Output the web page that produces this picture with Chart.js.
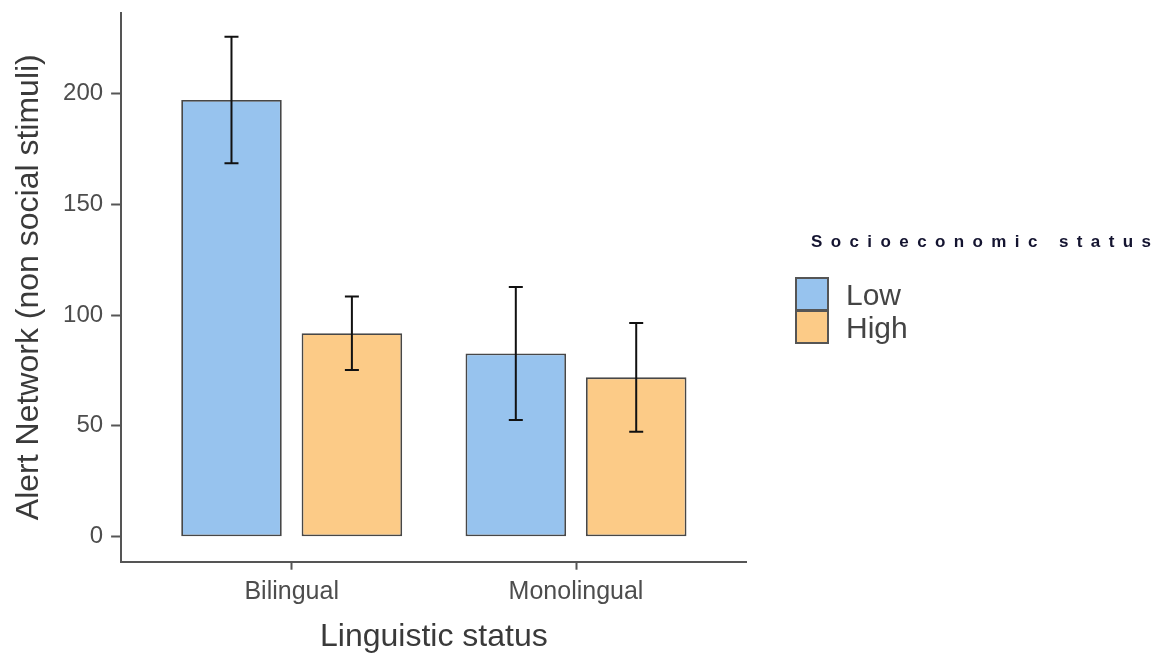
<!DOCTYPE html>
<html>
<head>
<meta charset="utf-8">
<script src="https://cdn.jsdelivr.net/npm/chart.js@4.4.1/dist/chart.umd.min.js"></script>
<style>
  html, body { margin: 0; padding: 0; background: #ffffff; }
  #wrap { width: 1159px; height: 657px; position: relative; }
</style>
</head>
<body>
<div id="wrap"><canvas id="chart" width="1159" height="657"></canvas></div>
<script>
// Alert network scores by linguistic status, split by socioeconomic status
const categories = ['Bilingual', 'Monolingual'];
const groupNames = ['Low', 'High'];
const lowMeans = [197.0, 82.7];
const highMeans = [91.8, 71.9];
const lowErrors = [28.5, 30.0];
const highErrors = [16.6, 24.5];
const yTickValues = [0, 50, 100, 150, 200];

const FONT = "'Liberation Sans', Arial, Helvetica, sans-serif";
const fillColors = ['#97c3ee', '#fccb87'];
const errorSets = [lowErrors, highErrors];

// Mean +/- error whiskers on top of each bar
const errorBars = {
  id: 'errorBars',
  afterDatasetsDraw(chart) {
    const ctx = chart.ctx;
    const y = chart.scales.y;
    ctx.save();
    ctx.strokeStyle = '#111111';
    ctx.lineWidth = 2;
    chart.data.datasets.forEach((ds, i) => {
      const meta = chart.getDatasetMeta(i);
      meta.data.forEach((bar, j) => {
        const m = ds.data[j];
        const e = errorSets[i][j];
        const top = y.getPixelForValue(m + e);
        const bot = y.getPixelForValue(m - e);
        const cap = 7;
        ctx.beginPath();
        ctx.moveTo(bar.x, top); ctx.lineTo(bar.x, bot);
        ctx.moveTo(bar.x - cap, top); ctx.lineTo(bar.x + cap, top);
        ctx.moveTo(bar.x - cap, bot); ctx.lineTo(bar.x + cap, bot);
        ctx.stroke();
      });
    });
    ctx.restore();
  }
};

// Legend on the right: spaced-out title with stacked key boxes
const sideLegend = {
  id: 'sideLegend',
  afterDraw(chart) {
    const ctx = chart.ctx;
    ctx.save();
    // title, letter by letter with wide tracking between x0 and x1
    const title = 'Socioeconomic status';
    ctx.font = 'bold 17px ' + FONT;
    ctx.fillStyle = '#141430';
    ctx.textBaseline = 'alphabetic';
    ctx.textAlign = 'left';
    const chars = Array.from(title);
    const x0 = 811, x1 = 1151;
    const natural = chars.reduce((s, ch) => s + ctx.measureText(ch).width, 0);
    const gap = (x1 - x0 - natural) / (chars.length - 1);
    let x = x0;
    for (const ch of chars) {
      ctx.fillText(ch, x, 247);
      x += ctx.measureText(ch).width + gap;
    }
    // key boxes
    const boxX = 796, boxY = 278, box = 32;
    chart.data.datasets.forEach((ds, i) => {
      const by = boxY + i * (box + 1);
      ctx.fillStyle = ds.backgroundColor;
      ctx.fillRect(boxX, by, box, box);
      ctx.strokeStyle = '#555555';
      ctx.lineWidth = 2;
      ctx.strokeRect(boxX, by, box, box);
      ctx.fillStyle = '#444444';
      ctx.font = '30px ' + FONT;
      ctx.fillText(ds.label, 846, by + 27);
    });
    ctx.restore();
  }
};

new Chart(document.getElementById('chart'), {
  type: 'bar',
  data: {
    labels: categories,
    datasets: [
      {
        label: groupNames[0],
        data: lowMeans,
        backgroundColor: fillColors[0],
        borderColor: '#474747',
        borderWidth: 1.8,
        borderSkipped: false,
        categoryPercentage: 0.847,
        barPercentage: 0.835
      },
      {
        label: groupNames[1],
        data: highMeans,
        backgroundColor: fillColors[1],
        borderColor: '#474747',
        borderWidth: 1.8,
        borderSkipped: false,
        categoryPercentage: 0.847,
        barPercentage: 0.835
      }
    ]
  },
  options: {
    responsive: false,
    animation: false,
    layout: { padding: { left: 0, right: 412.4, top: 12.7, bottom: 0 } },
    plugins: {
      legend: { display: false },
      tooltip: { enabled: false }
    },
    scales: {
      x: {
        type: 'category',
        offset: true,
        // discrete axis padded by 0.6 of a category on each side
        afterBuildTicks(scale) {
          scale._startValue = -0.6;
          scale._valueRange = categories.length + 0.2;
        },
        afterFit(scale) {
          scale.height = 95.3;
          scale.paddingLeft = 0;
          scale.paddingRight = 0;
        },
        grid: {
          display: true,
          drawOnChartArea: false,
          offset: false,
          tickLength: 8,
          tickWidth: 2,
          color: '#555555'
        },
        border: { display: true, color: '#555555', width: 2 },
        ticks: {
          color: '#4d4d4d',
          font: { family: FONT, size: 25 },
          padding: 7
        },
        title: {
          display: true,
          text: 'Linguistic status',
          color: '#3a3a3a',
          font: { family: FONT, size: 32 },
          padding: { top: 0, bottom: 1 }
        }
      },
      y: {
        min: -11.28,
        max: 236.4,
        afterBuildTicks(scale) {
          scale.ticks = yTickValues.map(v => ({ value: v }));
        },
        afterFit(scale) {
          scale.width = 121.1;
          scale.paddingTop = 0;
          scale.paddingBottom = 0;
        },
        grid: {
          display: true,
          drawOnChartArea: false,
          tickLength: 10,
          tickWidth: 2,
          color: '#555555'
        },
        border: { display: true, color: '#555555', width: 2 },
        ticks: {
          color: '#4d4d4d',
          font: { family: FONT, size: 24 },
          padding: 8
        },
        title: {
          display: true,
          text: 'Alert Network (non social stimuli)',
          color: '#3a3a3a',
          font: { family: FONT, size: 32 },
          padding: { top: 10, bottom: 0 }
        }
      }
    }
  },
  plugins: [errorBars, sideLegend]
});
</script>
</body>
</html>
